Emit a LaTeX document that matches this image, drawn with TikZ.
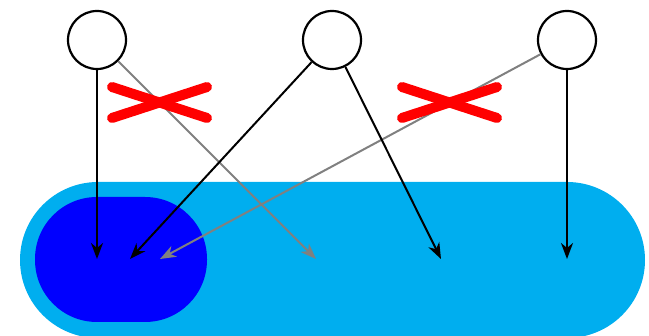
\documentclass[tikz,border=0pt]{standalone}
\usetikzlibrary{arrows.meta}
\definecolor{lightblue}{HTML}{00AEEF}
\definecolor{darkblue}{HTML}{0000FF}
\definecolor{crossred}{HTML}{FF0000}
\definecolor{midgray}{HTML}{808080}
\begin{document}
\begin{tikzpicture}[x=1pt,y=-1pt,
  src/.style={circle,draw=black,line width=2.2pt,minimum size=58pt,inner sep=0pt,fill=white},
  arr/.style={line width=2pt,-{Stealth[length=16pt,width=12pt,inset=5pt]}},
  grayarr/.style={arr,draw=midgray,fill=midgray},
  blackarr/.style={arr,draw=black},
  crossline/.style={line width=10pt,line cap=round,draw=crossred}]
\useasboundingbox (0,0) rectangle (649,336);
\node[fill=lightblue,rounded corners=78pt,minimum width=625pt,minimum height=156pt,inner sep=0pt,draw=none] (outer) at (332.5,260) {};
\node[fill=darkblue,rounded corners=62pt,minimum width=172pt,minimum height=125pt,inner sep=0pt,draw=none] (inner) at (121,259.5) {};
\node[src] (c1) at (97,40) {};
\node[src] (c2) at (332,40) {};
\node[src] (c3) at (567,40) {};
\coordinate (e1) at (97,259);
\coordinate (e2) at (130,259);
\coordinate (e3) at (160,259);
\coordinate (e4) at (316,259);
\coordinate (e5) at (441,259);
\coordinate (e6) at (567,259);
\draw[grayarr] (c1) -- (e4);
\draw[grayarr] (c3) -- (e3);
\draw[blackarr] (c1) -- (e1);
\draw[blackarr] (c2) -- (e2);
\draw[blackarr] (c2) -- (e5);
\draw[blackarr] (c3) -- (e6);
\coordinate (x1a) at (112,87); \coordinate (x1b) at (207,118);
\coordinate (x1c) at (112,118); \coordinate (x1d) at (207,87);
\coordinate (x2a) at (402,87); \coordinate (x2b) at (497,118);
\coordinate (x2c) at (402,118); \coordinate (x2d) at (497,87);
\draw[crossline] (x1a) -- (x1b);
\draw[crossline] (x1c) -- (x1d);
\draw[crossline] (x2a) -- (x2b);
\draw[crossline] (x2c) -- (x2d);
\end{tikzpicture}
\end{document}
